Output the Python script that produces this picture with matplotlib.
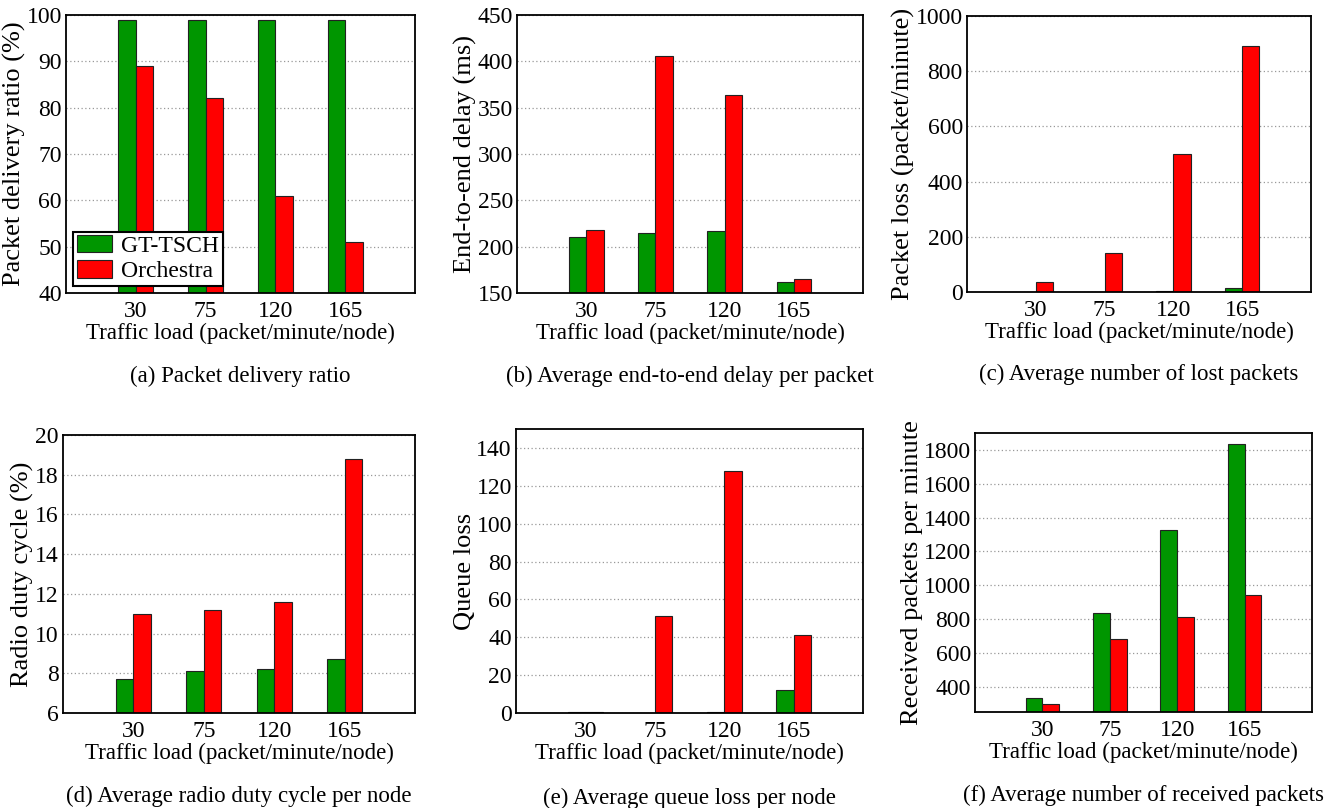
import matplotlib
matplotlib.use("Agg")
import matplotlib.pyplot as plt
import numpy as np

plt.rcParams['font.family'] = ['Liberation Serif', 'DejaVu Serif']

loads = ['30', '75', '120', '165']
series_names = ['GT-TSCH', 'Orchestra']

pdr_gt = [99, 99, 99, 99]
pdr_orch = [89, 82, 61, 51]

delay_gt = [210, 215, 217, 162]
delay_orch = [218, 406, 364, 165]

loss_gt = [0, 0, 2, 15]
loss_orch = [35, 143, 501, 890]

duty_gt = [7.7, 8.1, 8.2, 8.7]
duty_orch = [11.0, 11.2, 11.6, 18.8]

queue_gt = [0.7, 0.2, 0.3, 12]
queue_orch = [0.3, 51, 128, 41]

recv_gt = [335, 834, 1327, 1832]
recv_orch = [295, 684, 814, 942]

GREEN = '#009600'
RED = '#ff0000'
W, H = 1328, 808

panels = [
    # (pixel box left, right, top, bottom), gt, orch, ylim, yticks, ylabel, caption
    ((66, 415, 15, 293), pdr_gt, pdr_orch, (40, 100), np.arange(40, 101, 10),
     'Packet delivery ratio (%)', '(a) Packet delivery ratio'),
    ((517, 863, 15, 293), delay_gt, delay_orch, (150, 450), np.arange(150, 451, 50),
     'End-to-end delay (ms)', '(b) Average end-to-end delay per packet'),
    ((967, 1311, 16, 292), loss_gt, loss_orch, (0, 1000), np.arange(0, 1001, 200),
     'Packet loss (packet/minute)', '(c) Average number of lost packets'),
    ((63, 415, 435, 713), duty_gt, duty_orch, (6, 20), np.arange(6, 21, 2),
     'Radio duty cycle (%)', '(d) Average radio duty cycle per node'),
    ((516, 863, 429, 713), queue_gt, queue_orch, (0, 150), np.arange(0, 141, 20),
     'Queue loss', '(e) Average queue loss per node'),
    ((975, 1312, 433, 712), recv_gt, recv_orch, (250, 1900), np.arange(400, 1801, 200),
     'Received packets per minute', '(f) Average number of received packets'),
]

fig = plt.figure(figsize=(W / 100, H / 100), dpi=100)
x = np.arange(1, len(loads) + 1)
bw = 0.25

for i, (box, gt, orch, ylim, yticks, ylabel, caption) in enumerate(panels):
    l, r, t, b = box
    ax = fig.add_axes([l / W, (H - b) / H, (r - l) / W, (b - t) / H])
    ax.bar(x - bw / 2, gt, bw, color=GREEN, edgecolor='#222222',
           linewidth=0.8, label=series_names[0], zorder=3)
    ax.bar(x + bw / 2, orch, bw, color=RED, edgecolor='#222222',
           linewidth=0.8, label=series_names[1], zorder=3)
    ax.set_xlim(0, 5)
    ax.set_ylim(*ylim)
    ax.set_xticks(x)
    ax.set_xticklabels(loads)
    ax.set_yticks(yticks)
    ax.tick_params(length=0, labelsize=17, pad=3)
    ax.tick_params(axis='x', pad=6)
    ax.yaxis.grid(True, linestyle=(0, (1, 2)), color='#999999', linewidth=0.9, zorder=0)
    for s in ax.spines.values():
        s.set_linewidth(1.3)
        s.set_zorder(4)
    ax.set_ylabel(ylabel, fontsize=19, labelpad=0.5)
    ax.set_xlabel('Traffic load (packet/minute/node)', fontsize=16.5, labelpad=0)
    ax.text(0.5, -0.3, caption, transform=ax.transAxes, ha='center', va='center',
            fontsize=16.5)
    if i == 0:
        leg = ax.legend(loc='lower left', fontsize=17, frameon=True, fancybox=False,
                        borderaxespad=0.3, handlelength=1.5, handleheight=0.75,
                        borderpad=0.15, labelspacing=0.15, handletextpad=0.4)
        leg.get_frame().set_edgecolor('black')
        leg.get_frame().set_linewidth(1.5)
        leg.get_frame().set_alpha(1)
        leg.set_zorder(5)

fig.savefig('out.png', dpi=100)
